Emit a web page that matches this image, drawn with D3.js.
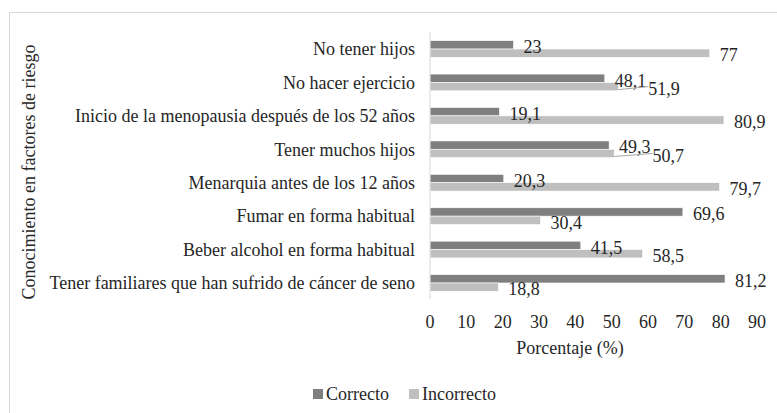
<!DOCTYPE html>
<html>
<head>
<meta charset="utf-8">
<script src="https://cdn.jsdelivr.net/npm/d3@7"></script>
<style>
  body { margin: 0; background: #fff; }
</style>
</head>
<body>
<svg id="chart"></svg>
<script>
// categories, top to bottom as in the picture
var categories = [
  "No tener hijos",
  "No hacer ejercicio",
  "Inicio de la menopausia después de los 52 años",
  "Tener muchos hijos",
  "Menarquia antes de los 12 años",
  "Fumar en forma habitual",
  "Beber alcohol en forma habitual",
  "Tener familiares que han sufrido de cáncer de seno"
];
var correcto   = [23, 48.1, 19.1, 49.3, 20.3, 69.6, 41.5, 81.2];
var incorrecto = [77, 51.9, 80.9, 50.7, 79.7, 30.4, 58.5, 18.8];
var seriesNames = ["Correcto", "Incorrecto"];
var xTicks = [0, 10, 20, 30, 40, 50, 60, 70, 80, 90];

var W = 777, H = 413;
var colors = { "Correcto": "#7f7f7f", "Incorrecto": "#bfbfbf" };
var FS = 18;
var FONT = "Liberation Serif";

var svg = d3.select("#chart").attr("width", W).attr("height", H);

// every text gets the serif font set on itself
function label(sel) {
  return sel.append("text")
    .attr("font-family", FONT)
    .attr("font-size", FS)
    .attr("fill", "#262626");
}

// chart area border
svg.append("rect")
  .attr("x", 9.5).attr("y", 12.5)
  .attr("width", 800).attr("height", 420)
  .attr("fill", "none")
  .attr("stroke", "#d9d9d9");

var x = d3.scaleLinear().domain([0, 90]).range([430, 757]);
var y = d3.scaleBand().domain(categories).range([32.3, 299.7])
  .paddingInner(0.5).paddingOuter(0.25);
var ySub = d3.scaleBand().domain(seriesNames).range([0, y.bandwidth()]);

var rows = categories.map(function (c, i) {
  return { cat: c, vals: [
    { s: "Correcto", v: correcto[i] },
    { s: "Incorrecto", v: incorrecto[i] }
  ] };
});

// bars
var g = svg.selectAll("g.row").data(rows).enter().append("g")
  .attr("class", "row")
  .attr("transform", function (d) { return "translate(0," + y(d.cat) + ")"; });

g.selectAll("rect").data(function (d) { return d.vals; }).enter().append("rect")
  .attr("x", x(0))
  .attr("y", function (d) { return ySub(d.s); })
  .attr("width", function (d) { return x(d.v) - x(0); })
  .attr("height", ySub.bandwidth())
  .attr("fill", function (d) { return colors[d.s]; })
  .attr("stroke", "#fff")
  .attr("stroke-width", 0.6);

// data labels, light one pushed right when it hits the dark one
var fmt = function (v) { return String(v).replace(".", ","); };
g.each(function (d) {
  var row = d3.select(this);
  var dark = d.vals[0], light = d.vals[1];
  var yd = ySub("Correcto") + ySub.bandwidth() / 2 + 2;
  var yl = ySub("Incorrecto") + ySub.bandwidth() / 2 + 2;

  var t1 = label(row)
    .attr("x", x(dark.v) + 10).attr("y", yd).attr("dy", "0.35em")
    .text(fmt(dark.v));
  var end1 = x(dark.v) + 10 + t1.node().getComputedTextLength();

  var lx = x(light.v) + 10;
  if (lx < end1 + 2 && Math.abs(light.v - dark.v) < 8) {
    lx = end1 + 2;
    row.append("line")
      .attr("x1", x(light.v)).attr("y1", yl + 1)
      .attr("x2", lx).attr("y2", yl - 2)
      .attr("stroke", "#a6a6a6").attr("stroke-width", 1);
  }
  label(row)
    .attr("x", lx).attr("y", yl).attr("dy", "0.35em")
    .text(fmt(light.v));
});

// category axis
svg.append("line")
  .attr("x1", x(0)).attr("x2", x(0))
  .attr("y1", 32).attr("y2", 299)
  .attr("stroke", "#d9d9d9");

categories.forEach(function (c) {
  label(svg)
    .attr("x", 415)
    .attr("y", y(c) + y.bandwidth() / 2)
    .attr("dy", "0.35em")
    .attr("text-anchor", "end")
    .text(c);
});

// value axis labels
xTicks.forEach(function (t) {
  label(svg)
    .attr("x", x(t))
    .attr("y", 322).attr("dy", "0.35em")
    .attr("text-anchor", "middle")
    .text(t);
});

label(svg)
  .attr("x", 570).attr("y", 348).attr("dy", "0.35em")
  .attr("text-anchor", "middle")
  .text("Porcentaje (%)");

label(svg)
  .attr("transform", "translate(29,172) rotate(-90)")
  .attr("dy", "0.35em")
  .attr("text-anchor", "middle")
  .text("Conocimiento en factores de riesgo");

// legend
var legend = svg.append("g").attr("transform", "translate(313,394)");
var lx0 = 0;
seriesNames.forEach(function (s) {
  legend.append("rect")
    .attr("x", lx0).attr("y", -5)
    .attr("width", 10).attr("height", 10)
    .attr("fill", colors[s]);
  var t = label(legend)
    .attr("x", lx0 + 13).attr("y", 0).attr("dy", "0.35em")
    .text(s);
  lx0 += 13 + t.node().getComputedTextLength() + 20;
});
</script>
</body>
</html>
